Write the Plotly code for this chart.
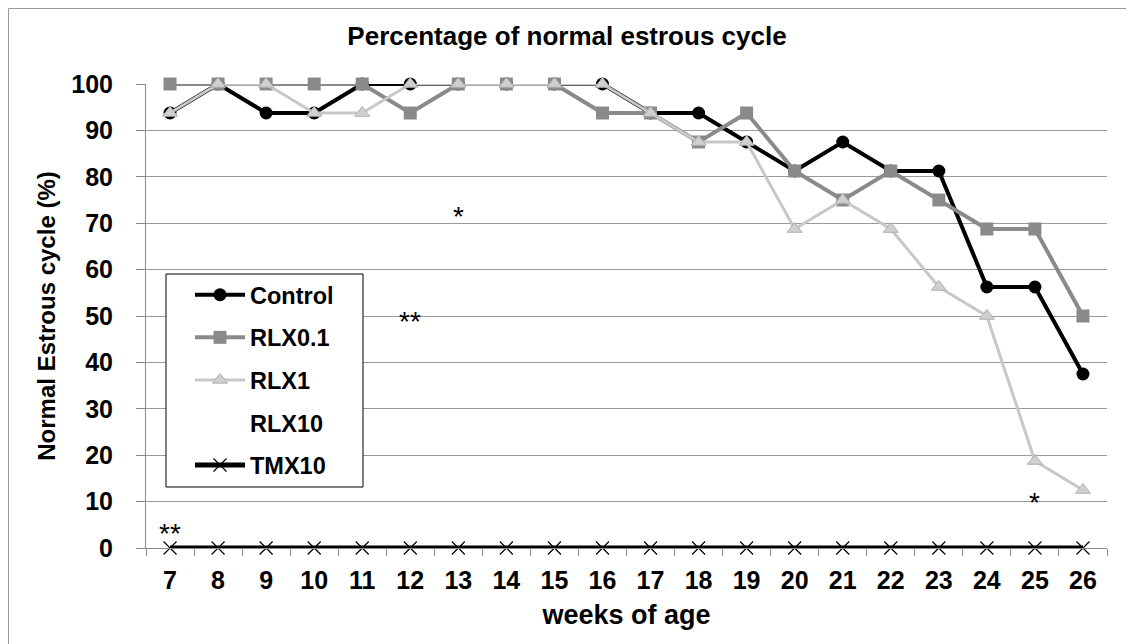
import plotly.graph_objects as go

weeks = [str(w) for w in range(7, 27)]
control = [93.75, 100, 93.75, 93.75, 100, 100, 100, 100, 100, 100,
           93.75, 93.75, 87.5, 81.25, 87.5, 81.25, 81.25, 56.25, 56.25, 37.5]
rlx01 = [100, 100, 100, 100, 100, 93.75, 100, 100, 100, 93.75,
         93.75, 87.5, 93.75, 81.25, 75, 81.25, 75, 68.75, 68.75, 50]
rlx1 = [93.75, 100, 100, 93.75, 93.75, 100, 100, 100, 100, 100,
        93.75, 87.5, 87.5, 68.75, 75, 68.75, 56.25, 50, 18.75, 12.5]
rlx10 = [None] * 20
tmx10 = [0] * 20

# significance marks: week, height (%), text
star_week = ["13", "12", "7", "25"]
star_y = [71.4, 48.8, 3.1, 9.7]
star_text = ["*", "**", "**", "*"]

FONT = "Liberation Sans, Arial, sans-serif"

fig = go.Figure()
fig.add_trace(go.Scatter(x=weeks, y=control, name="Control", mode="lines+markers",
                         line=dict(color="black", width=4),
                         marker=dict(symbol="circle", size=13, color="black"),
                         cliponaxis=False, legendgroup="a"))
fig.add_trace(go.Scatter(x=weeks, y=rlx01, name="RLX0.1", mode="lines+markers",
                         line=dict(color="#8a8a8a", width=4),
                         marker=dict(symbol="square", size=13, color="#8a8a8a"),
                         cliponaxis=False, legendgroup="b"))
fig.add_trace(go.Scatter(x=weeks, y=rlx1, name="RLX1", mode="lines+markers",
                         line=dict(color="#c8c8c8", width=3),
                         marker=dict(symbol="triangle-up", size=13, color="#d0d0d0",
                                     line=dict(color="#b0b0b0", width=1)),
                         cliponaxis=False, legendgroup="c"))
fig.add_trace(go.Scatter(x=weeks, y=rlx10, name="RLX10", mode="lines+markers",
                         line=dict(color="white", width=3),
                         marker=dict(symbol="diamond", size=12, color="white"),
                         cliponaxis=False, legendgroup="d"))
fig.add_trace(go.Scatter(x=weeks, y=tmx10, name="TMX10", mode="lines+markers",
                         line=dict(color="black", width=5),
                         marker=dict(symbol="x-thin-open", size=13,
                                     line=dict(color="black", width=1.2)),
                         cliponaxis=False, legendgroup="e"))

for wk, y, t in zip(star_week, star_y, star_text):
    fig.add_annotation(x=weeks.index(wk), y=y, text=t, showarrow=False,
                       font=dict(family=FONT, size=28, color="black"),
                       yanchor="middle")

OFF = 8  # page body margin
W, H = 1134, 644
L, T = 146 - OFF, 84 - OFF
R = W - (1107 - OFF)
B = H - (548 - OFF)
pw, ph = W - L - R, H - T - B

def px(xr):
    return (xr - OFF - L) / pw

def py(yr):
    return (H - B - (yr - OFF)) / ph

# legend box
fig.add_shape(type="rect", xref="paper", yref="paper",
              x0=px(166), x1=px(363), y0=py(487), y1=py(274),
              line=dict(color="black", width=1), fillcolor="white", layer="above")
# outer chart border
fig.add_shape(type="rect", xref="paper", yref="paper",
              x0=px(8.5), x1=px(1127), y0=py(670), y1=py(8.5),
              line=dict(color="#9a9a9a", width=1), fillcolor="rgba(0,0,0,0)",
              layer="below")

fig.update_layout(
    width=W, height=H,
    margin=dict(l=L, r=R, t=T, b=B),
    paper_bgcolor="white", plot_bgcolor="white",
    font=dict(family=FONT, color="black"),
    title=dict(text="<b>Percentage of normal estrous cycle</b>",
               x=(567 - OFF) / W, xref="container", xanchor="center",
               y=1 - (36 - OFF) / H, yref="container", yanchor="middle",
               font=dict(size=26, family=FONT, color="black")),
    showlegend=True,
    legend=dict(x=px(190), y=py(273), xanchor="left", yanchor="top",
                bgcolor="rgba(0,0,0,0)", borderwidth=0,
                font=dict(size=23.5, family=FONT, color="black", weight="bold"),
                itemwidth=50, tracegroupgap=9, traceorder="grouped"),
)

fig.update_xaxes(type="category", tickson="boundaries", range=[-0.5, 19.5],
                 showline=True, linecolor="#8a8a8a", linewidth=1,
                 ticks="outside", ticklen=7, tickcolor="#8a8a8a",
                 showgrid=False, zeroline=False, ticklabelstandoff=10,
                 tickfont=dict(size=25, family=FONT, color="black", weight="bold"),
                 title=dict(text="<b>weeks of age</b>", standoff=12,
                            font=dict(size=27, family=FONT, color="black")))
fig.update_yaxes(range=[0, 100], tickvals=list(range(0, 101, 10)),
                 showline=True, linecolor="#8a8a8a", linewidth=1,
                 ticks="outside", ticklen=9, tickcolor="#8a8a8a",
                 showgrid=True, gridcolor="#9a9a9a", gridwidth=1,
                 zeroline=False, ticklabelstandoff=18,
                 tickfont=dict(size=25, family=FONT, color="black", weight="bold"),
                 title=dict(text="<b>Normal Estrous cycle (%)</b>", standoff=8,
                            font=dict(size=24, family=FONT, color="black")))

fig.write_html("out.html")
